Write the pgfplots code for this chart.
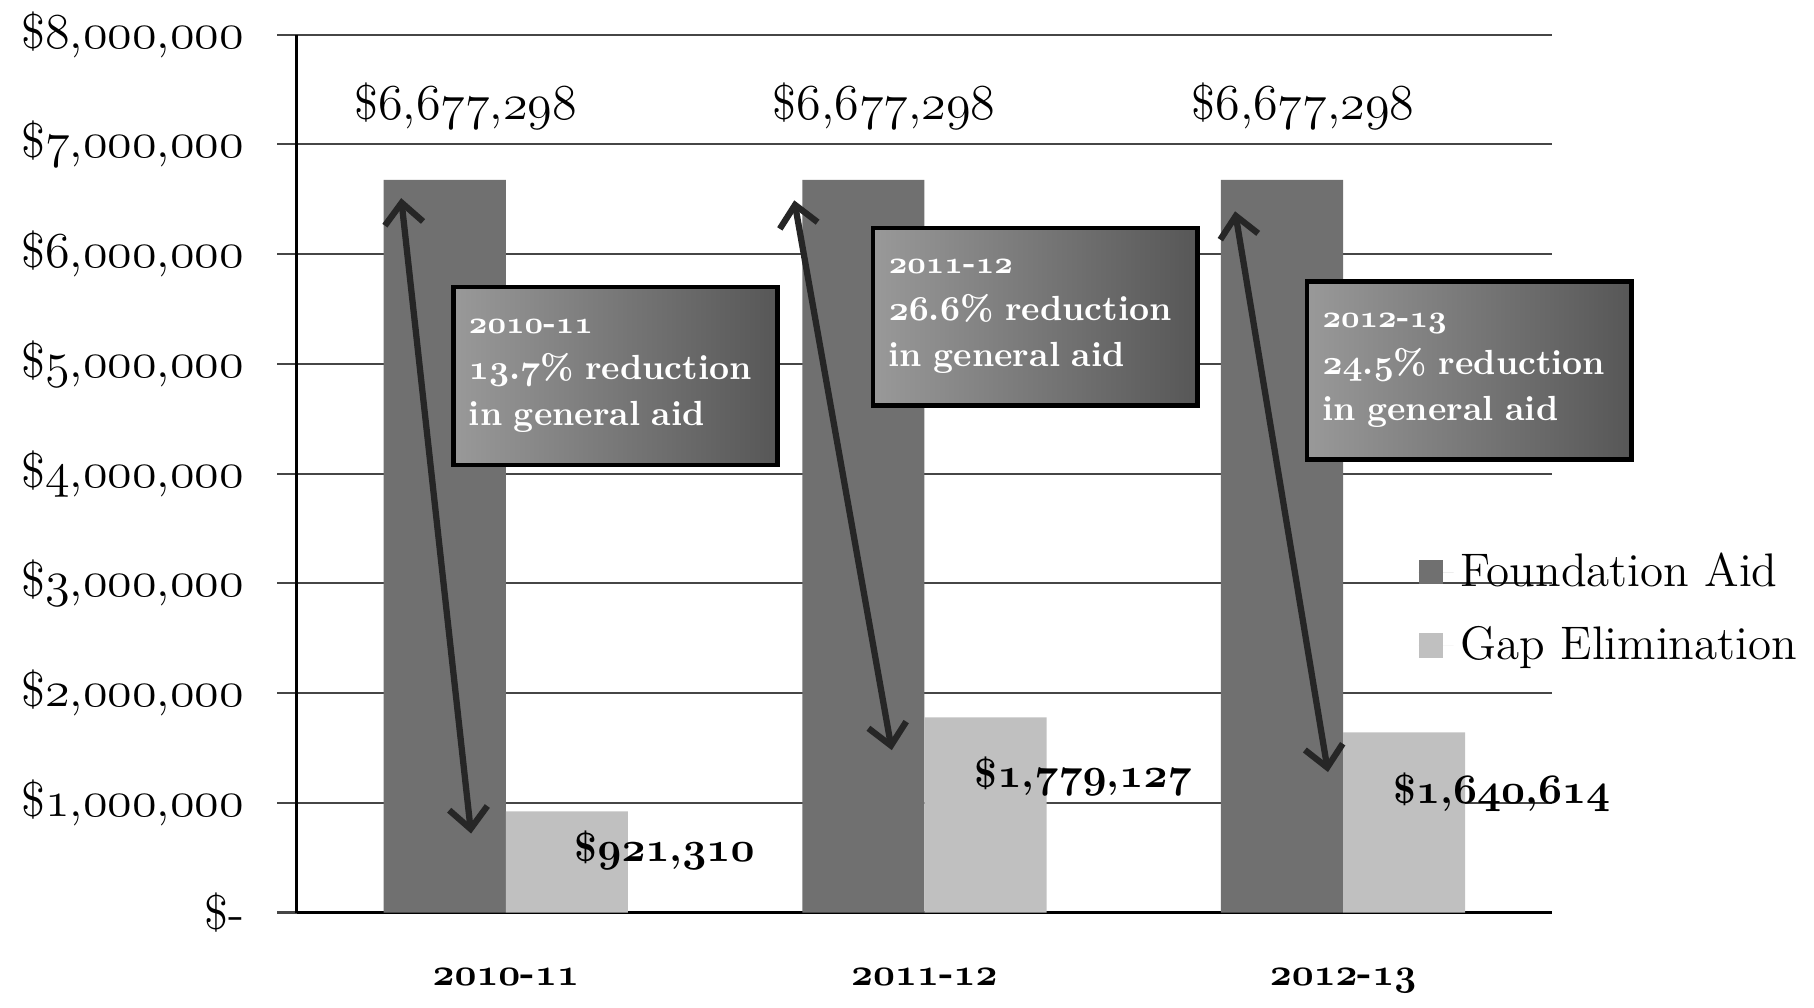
\documentclass[border=0pt]{standalone}
\usepackage{pgfplots}
\pgfplotsset{compat=1.18}
\usetikzlibrary{arrows.meta}

\definecolor{found}{RGB}{112,112,112}
\definecolor{gapel}{RGB}{192,192,192}
\definecolor{gridc}{RGB}{70,70,70}

% old-style figures from the math italic font, regular and bold
\DeclareRobustCommand\os[1]{{\fontencoding{OML}\fontfamily{cmm}\fontseries{m}\fontshape{it}\selectfont #1}}
\DeclareRobustCommand\osb[1]{{\fontencoding{OML}\fontfamily{cmm}\fontseries{b}\fontshape{it}\selectfont #1}}
% dollar amounts, commas kept in the text font
\DeclareRobustCommand\dol[3]{\$\os{#1},\os{#2},\os{#3}}
\DeclareRobustCommand\dolB[3]{\$\osb{#1},\osb{#2},\osb{#3}}
\DeclareRobustCommand\dolBb[2]{\$\osb{#1},\osb{#2}}
\newcommand\yr[2]{\osb{#1}-\osb{#2}}

\begin{document}
\begin{tikzpicture}
\begin{axis}[
  scale only axis,
  width=360pt, height=251.67pt,
  clip=false,
  xmin=-0.5, xmax=2.5,
  ymin=0, ymax=8000000,
  axis lines*=left,
  axis line style={black, line width=0.6pt},
  ybar=0pt, bar width=35pt,
  tick align=outside,
  xtick={0,1,2},
  xticklabels={\yr{2010}{11},\yr{2011}{12},\yr{2012}{13}},
  x tick style={draw=none},
  xticklabel style={font=\bfseries\fontsize{11.2}{13}\selectfont, yshift=-7pt},
  extra x ticks={-0.5,0.5,1.5,2.5},
  extra x tick labels={},
  extra x tick style={major tick length=8pt, tick style={draw=black, line width=0.6pt}, grid=none},
  scaled y ticks=false,
  ytick={0,1000000,2000000,3000000,4000000,5000000,6000000,7000000,8000000},
  yticklabels={{\$-\hspace{9pt}},{\dol{1}{000}{000}},{\dol{2}{000}{000}},{\dol{3}{000}{000}},
    {\dol{4}{000}{000}},{\dol{5}{000}{000}},{\dol{6}{000}{000}},{\dol{7}{000}{000}},{\dol{8}{000}{000}}},
  y tick style={draw=gridc, line width=0.6pt},
  major tick length=5.5pt,
  yticklabel style={font=\fontsize{14}{16}\selectfont, xshift=-6pt},
  ymajorgrids,
  grid style={gridc, line width=0.6pt},
  legend style={at={(rel axis cs:0.893,0.346)}, anchor=west, draw=none, fill=none,
    font=\fontsize{13.5}{15}\selectfont, row sep=6pt, inner sep=0pt},
  legend cell align=left,
  legend image code/.code={\draw[#1,draw=none] (0pt,-3.5pt) rectangle (7pt,3.5pt);
    \path (0pt,0pt) -- (10pt,0pt);},
]
\addplot[fill=found, draw=none,
  nodes near coords={\dol{6}{677}{298}},
  every node near coord/.append style={font=\fontsize{14}{16}\selectfont, anchor=center, yshift=21pt, xshift=6pt, text=black}]
  coordinates {(0,6677298) (1,6677298) (2,6677298)};
\addlegendentry{Foundation Aid}

\addplot[fill=gapel, draw=none, point meta=explicit symbolic,
  nodes near coords={\pgfplotspointmeta},
  every node near coord/.append style={font=\bfseries\fontsize{11.7}{14}\selectfont, anchor=center, yshift=-17pt, xshift=28pt, text=black}]
  coordinates {(0,921310) [\raisebox{14pt}{\dolBb{921}{310}}] (1,1779127) [\dolB{1}{779}{127}] (2,1640614) [\dolB{1}{640}{614}]};
\addlegendentry{Gap Elimination}

% double arrows from the Foundation Aid bars down to the Gap Elimination bars
\tikzset{dbl/.style={line width=1.8pt, black!85,
  {Straight Barb[length=6pt,width=11pt]}-{Straight Barb[length=6pt,width=11pt]}}}
\draw[dbl] (axis cs:-0.25,6510000) -- (axis cs:-0.083,720000);
\draw[dbl] (axis cs:0.689,6490000) -- (axis cs:0.922,1480000);
\draw[dbl] (axis cs:1.742,6390000) -- (axis cs:1.964,1280000);

% annotation boxes
\tikzset{note/.style={draw=black, line width=1.3pt, left color=black!40, right color=black!66,
  text=white, minimum width=93pt, minimum height=51pt, text width=84pt, inner sep=4.5pt,
  align=left, anchor=north west, font=\bfseries\fontsize{10}{13.3}\selectfont}}
\node[note] at (axis cs:-0.131,5720000)
  {{\fontsize{9.5}{13.3}\selectfont\yr{2010}{11}}\\\osb{13}.\osb{7}\% reduction\\in general aid};
\node[note] at (axis cs:0.872,6260000)
  {{\fontsize{9.5}{13.3}\selectfont\yr{2011}{12}}\\\osb{26}.\osb{6}\% reduction\\in general aid};
\node[note] at (axis cs:1.908,5770000)
  {{\fontsize{9.5}{13.3}\selectfont\yr{2012}{13}}\\\osb{24}.\osb{5}\% reduction\\in general aid};

% page frame with the reference's proportions
\path (rel axis cs:0,0) ++(-85pt,-27.3pt) rectangle ++(520pt,288.3pt);
\end{axis}
\end{tikzpicture}
\end{document}
